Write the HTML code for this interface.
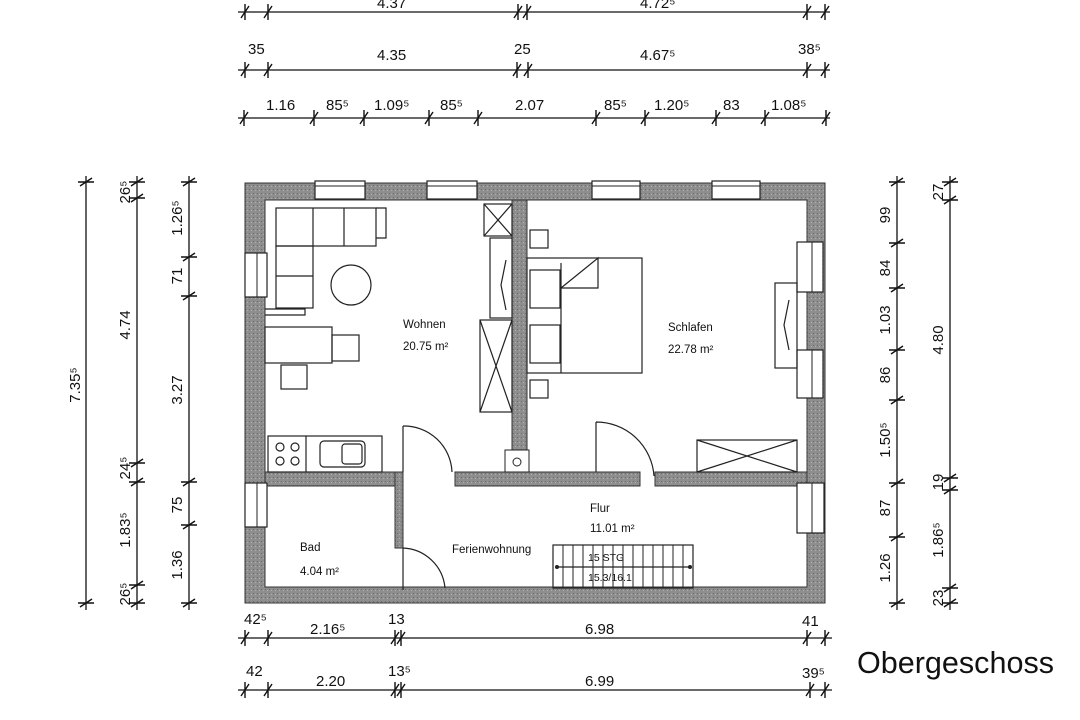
<!DOCTYPE html>
<html><head><meta charset="utf-8"><style>
html,body{margin:0;padding:0;background:#fff}
svg{display:block}
text{font-family:"Liberation Sans",sans-serif;fill:#111}
</style></head><body>
<svg id="s" width="1080" height="720" viewBox="0 0 1080 720" xmlns="http://www.w3.org/2000/svg">
<defs>
<pattern id="st" width="4" height="4" patternUnits="userSpaceOnUse">
<rect width="4" height="4" fill="#8e8e8e"/><rect x="1" y="1" width="1" height="1" fill="#6a6a6a"/><rect x="3" y="2" width="1" height="1" fill="#b0b0b0"/>
</pattern>
</defs>
<g id="dims" stroke="#111" stroke-width="1.3" fill="none">
<!-- top rows -->
<line x1="238" y1="12" x2="830" y2="12"/>
<line x1="238" y1="70" x2="830" y2="70"/>
<line x1="238" y1="118" x2="830" y2="118"/>
<!-- left -->
<line x1="86" y1="176" x2="86" y2="610"/>
<line x1="137" y1="176" x2="137" y2="610"/>
<line x1="189" y1="176" x2="189" y2="610"/>
<!-- right -->
<line x1="897" y1="176" x2="897" y2="610"/>
<line x1="950" y1="176" x2="950" y2="610"/>
<!-- bottom -->
<line x1="238" y1="638" x2="832" y2="638"/>
<line x1="238" y1="690" x2="832" y2="690"/>
</g>
<g id="ticks" stroke="#111" stroke-width="1.4"></g>

<!-- walls -->
<path fill="url(#st)" stroke="#333" stroke-width="1" fill-rule="evenodd" d="M245 183 H825 V603 H245 Z M265 200 V587 H807 V200 Z"/>
<rect x="512" y="200" width="15" height="272" fill="url(#st)" stroke="#333"/>
<rect x="455" y="472" width="185" height="14" fill="url(#st)" stroke="#333"/>
<rect x="655" y="472" width="152" height="14" fill="url(#st)" stroke="#333"/>
<rect x="265" y="472" width="137" height="14" fill="url(#st)" stroke="#333"/>
<rect x="395" y="472" width="8" height="76" fill="url(#st)" stroke="#333"/>
<rect x="505" y="450" width="24" height="22" fill="#fff" stroke="#222"/>
<circle cx="517" cy="462" r="4" fill="none" stroke="#222"/>

<g fill="#fff" stroke="#222" stroke-width="1.2">
<!-- windows top -->
<rect x="315" y="181" width="50" height="18"/><rect x="427" y="181" width="50" height="18"/>
<rect x="592" y="181" width="48" height="18"/><rect x="712" y="181" width="48" height="18"/>
<!-- windows left -->
<rect x="245" y="253" width="22" height="44"/><rect x="245" y="483" width="22" height="44"/>
<!-- windows right -->
<rect x="797" y="242" width="26" height="50"/><rect x="797" y="350" width="26" height="48"/><rect x="797" y="483" width="27" height="50"/>
</g>
<g stroke="#222" stroke-width="1" fill="none">
<line x1="315" y1="186" x2="365" y2="186"/><line x1="427" y1="186" x2="477" y2="186"/>
<line x1="592" y1="186" x2="640" y2="186"/><line x1="712" y1="186" x2="760" y2="186"/>
<line x1="257" y1="253" x2="257" y2="297"/><line x1="257" y1="483" x2="257" y2="527"/>
<line x1="812" y1="242" x2="812" y2="292"/><line x1="812" y1="350" x2="812" y2="398"/><line x1="812" y1="483" x2="812" y2="533"/>
</g>

<!-- furniture -->
<g fill="none" stroke="#222" stroke-width="1.2">
<rect x="276" y="208" width="100" height="38"/><line x1="313" y1="208" x2="313" y2="246"/><line x1="344" y1="208" x2="344" y2="246"/>
<rect x="276" y="246" width="37" height="62"/><line x1="276" y1="276" x2="313" y2="276"/>
<polyline points="376,208 386,208 386,238 376,238"/>
<polyline points="265,309 305,309 305,315 265,315"/>
<circle cx="351" cy="285" r="20"/>
<rect x="265" y="327" width="67" height="36"/><rect x="332" y="335" width="27" height="26"/>
<rect x="281" y="365" width="26" height="24"/>
<rect x="268" y="436" width="114" height="36"/><line x1="306" y1="436" x2="306" y2="472"/>
<circle cx="280" cy="447" r="4"/><circle cx="295" cy="447" r="4"/><circle cx="280" cy="461" r="4"/><circle cx="295" cy="461" r="4"/>
<rect x="320" y="441" width="45" height="26" rx="4"/><rect x="342" y="444" width="20" height="20" rx="3"/>
<!-- cabinets -->
<rect x="484" y="204" width="28" height="32"/><line x1="484" y1="204" x2="512" y2="236"/><line x1="512" y1="204" x2="484" y2="236"/>
<rect x="490" y="238" width="22" height="80"/><path d="M506 260 L501 285 L506 310"/>
<rect x="480" y="320" width="32" height="92"/><line x1="480" y1="320" x2="512" y2="412"/><line x1="512" y1="320" x2="480" y2="412"/>
<!-- bed -->
<rect x="530" y="230" width="18" height="18"/><rect x="530" y="380" width="18" height="18"/>
<rect x="527" y="258" width="115" height="115"/>
<rect x="530" y="270" width="30" height="38"/><rect x="530" y="325" width="30" height="38"/>
<polyline points="561,263 561,373"/><polyline points="561,288 598,258 598,288 561,288"/>
<rect x="775" y="283" width="22" height="85"/><path d="M789 300 L784 325 L789 350"/>
<rect x="697" y="440" width="100" height="32"/><line x1="697" y1="440" x2="797" y2="472"/><line x1="797" y1="440" x2="697" y2="472"/>
<!-- doors -->
<path d="M403 426 L403 472 M403 426 A48 48 0 0 1 452 472"/>
<path d="M596 422 L596 472 M596 422 A58 58 0 0 1 654 476"/>
<path d="M403 548 L403 590 M403 548 A44 44 0 0 1 445 588"/>
<!-- stairs -->
<rect x="553" y="545" width="140" height="43"/>
</g>
<g id="stairs" stroke="#222" stroke-width="1"></g>
<line x1="557" y1="567" x2="690" y2="567" stroke="#222" stroke-width="1.3"/>
<circle cx="557" cy="567" r="2" fill="#222"/><circle cx="690" cy="567" r="2" fill="#222"/>

<g font-size="11.5">
<text x="403" y="328">Wohnen</text><text x="403" y="350">20.75 m²</text>
<text x="668" y="331">Schlafen</text><text x="668" y="353">22.78 m²</text>
<text x="590" y="512">Flur</text><text x="590" y="532">11.01 m²</text>
<text x="300" y="551">Bad</text><text x="300" y="575">4.04 m²</text>
<text x="452" y="553">Ferienwohnung</text>
<text x="588" y="561" font-size="10.5">15 STG</text><text x="588" y="581" font-size="10.5">15.3/16.1</text>
</g>

<g font-size="15">
<text x="377" y="8">4.37</text><text x="640" y="8">4.72⁵</text>
<text x="248" y="54">35</text><text x="377" y="60">4.35</text><text x="514" y="54">25</text><text x="640" y="60">4.67⁵</text><text x="798" y="54">38⁵</text>
<text x="266" y="110">1.16</text><text x="326" y="110">85⁵</text><text x="374" y="110">1.09⁵</text><text x="440" y="110">85⁵</text><text x="515" y="110">2.07</text>
<text x="604" y="110">85⁵</text><text x="654" y="110">1.20⁵</text><text x="723" y="110">83</text><text x="771" y="110">1.08⁵</text>

<text x="244" y="624">42⁵</text><text x="310" y="634">2.16⁵</text><text x="388" y="624">13</text><text x="585" y="634">6.98</text><text x="802" y="626">41</text>
<text x="246" y="676">42</text><text x="316" y="686">2.20</text><text x="388" y="676">13⁵</text><text x="585" y="686">6.99</text><text x="802" y="678">39⁵</text>
</g>
<g font-size="15" text-anchor="middle">
<text transform="translate(80,385) rotate(-90)">7.35⁵</text>
<text transform="translate(130,192) rotate(-90)">26⁵</text>
<text transform="translate(130,325) rotate(-90)">4.74</text>
<text transform="translate(130,468) rotate(-90)">24⁵</text>
<text transform="translate(130,530) rotate(-90)">1.83⁵</text>
<text transform="translate(130,594) rotate(-90)">26⁵</text>
<text transform="translate(182,218) rotate(-90)">1.26⁵</text>
<text transform="translate(182,276) rotate(-90)">71</text>
<text transform="translate(182,390) rotate(-90)">3.27</text>
<text transform="translate(182,505) rotate(-90)">75</text>
<text transform="translate(182,565) rotate(-90)">1.36</text>
<text transform="translate(890,215) rotate(-90)">99</text>
<text transform="translate(890,268) rotate(-90)">84</text>
<text transform="translate(890,320) rotate(-90)">1.03</text>
<text transform="translate(890,375) rotate(-90)">86</text>
<text transform="translate(890,440) rotate(-90)">1.50⁵</text>
<text transform="translate(890,508) rotate(-90)">87</text>
<text transform="translate(890,568) rotate(-90)">1.26</text>
<text transform="translate(943,192) rotate(-90)">27</text>
<text transform="translate(943,340) rotate(-90)">4.80</text>
<text transform="translate(943,482) rotate(-90)">19</text>
<text transform="translate(943,540) rotate(-90)">1.86⁵</text>
<text transform="translate(943,598) rotate(-90)">23</text>
</g>
<text x="857" y="673" font-size="31" textLength="197" lengthAdjust="spacingAndGlyphs">Obergeschoss</text>
</svg>
<script>
var g=document.getElementById('ticks'),ns='http://www.w3.org/2000/svg',h='';
function H(y,xs){xs.forEach(function(x){h+='<path d="M'+x+' '+(y-8)+' V'+(y+8)+' M'+(x-4)+' '+(y+6)+' L'+(x+4)+' '+(y-6)+'"/>';});}
function V(x,ys){ys.forEach(function(y){h+='<path d="M'+(x-8)+' '+y+' H'+(x+8)+' M'+(x-6)+' '+(y+4)+' L'+(x+6)+' '+(y-4)+'"/>';});}
H(12,[245,268,518,527,807,825]);
H(70,[245,268,517,528,807,825]);
H(118,[244,314,364,429,478,596,645,716,765,826]);
H(638,[245,268,395,401,807,825]);
H(690,[245,268,395,401,810,825]);
V(86,[182,603]);
V(137,[182,198,463,482,585,603]);
V(189,[182,257,296,482,525,603]);
V(897,[182,243,288,350,400,483,537,603]);
V(950,[182,200,478,490,588,603]);
g.innerHTML=h;
var s=document.getElementById('stairs'),t='';
for(var x=563;x<693;x+=10)t+='<line x1="'+x+'" y1="545" x2="'+x+'" y2="588"/>';
s.innerHTML=t;
</script>
</body></html>
